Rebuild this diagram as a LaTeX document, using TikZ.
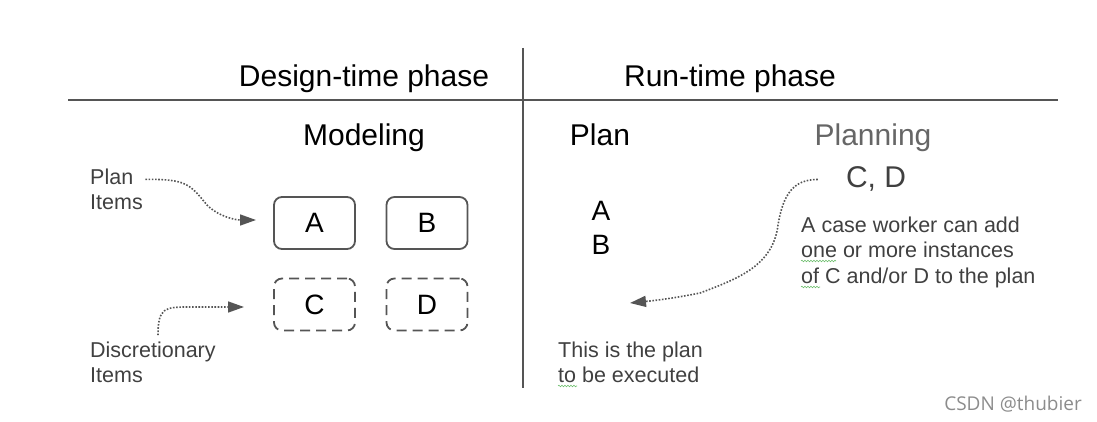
\documentclass[tikz,border=0pt]{standalone}
\usepackage{fontspec}
\setmainfont{Liberation Sans}
\newfontfamily\wmfont{Open Sans}
\usetikzlibrary{arrows.meta,decorations.pathmorphing}
\definecolor{linegray}{HTML}{555555}
\definecolor{txtgray}{HTML}{404040}
\definecolor{lightgray}{HTML}{666666}
\definecolor{squig}{HTML}{6DBE6D}
\tikzset{
  big/.style={font=\fontsize{30}{34}\selectfont, text=black, inner sep=0pt},
  letter/.style={font=\fontsize{28}{32}\selectfont, text=black, inner sep=0pt},
  small/.style={font=\fontsize{21.5}{25}\selectfont, text=txtgray, inner sep=0pt, align=left},
  itembox/.style={draw=linegray, line width=1.8pt, rounded corners=8pt, minimum width=81pt, minimum height=52pt, inner sep=0pt, font=\fontsize{28}{32}\selectfont},
  discbox/.style={itembox, dash pattern=on 10pt off 6pt},
  dotarrow/.style={draw=linegray, line width=1.6pt, dash pattern=on 1.6pt off 1.6pt, -{Triangle[length=16pt,width=11pt]}},
  squiggle/.style={draw=squig, line width=0.6pt, decorate, decoration={snake, amplitude=0.8pt, segment length=3pt}},
}
\begin{document}
\begin{tikzpicture}[x=1pt,y=-1pt]
\useasboundingbox (0,0) rectangle (1097,422);
% frame lines
\coordinate (hl) at (68,100);
\coordinate (hr) at (1058,100);
\coordinate (vt) at (523,48);
\coordinate (vb) at (523,388);
\draw[linegray, line width=2pt] (hl) -- (hr);
\draw[linegray, line width=1.6pt] (vt) -- (vb);
% headings
\node[big, anchor=base] (design) at (364,87) {Design-time phase};
\node[big, anchor=base] (run) at (730,87) {Run-time phase};
\node[big, anchor=base] (modeling) at (364,146) {Modeling};
\node[big, anchor=base] (plan) at (600,146) {Plan};
\node[big, anchor=base, text=lightgray] (planning) at (873,146) {Planning};
\node[big, anchor=base, text=txtgray] (cd) at (876,188) {C, D};
% boxes
\node[itembox] (A) at (314.5,223) {A};
\node[itembox] (B) at (427,223) {B};
\node[discbox] (C) at (314.5,304.5) {C};
\node[discbox] (D) at (427,304.5) {D};
% run-time A B
\node[letter] (ra) at (601,211) {A};
\node[letter] (rb) at (601,245) {B};
% small labels
\node[small, anchor=base west] (pi1) at (90,185) {Plan};
\node[small, anchor=base west] (pi2) at (90,210) {Items};
\node[small, anchor=base west] (di1) at (90,357) {Discretionary};
\node[small, anchor=base west] (di2) at (90,382) {Items};
\node[small, anchor=base west] (cw1) at (801,232) {A case worker can add};
\node[small, anchor=base west] (cw2) at (801,257.5) {one or more instances};
\node[small, anchor=base west] (cw3) at (801,283) {of C and/or D to the plan};
\node[small, anchor=base west] (tp1) at (558,357) {This is the plan};
\node[small, anchor=base west] (tp2) at (558,382) {to be executed};
% squiggles
\draw[squiggle] (801,261) -- (836,261);
\draw[squiggle] (801,287) -- (820,287);
\draw[squiggle] (558,386) -- (577,386);
% arrows
\coordinate (t1) at (256,220);
\coordinate (t2) at (244,307);
\coordinate (t3) at (630,303);
\draw[dotarrow] (pi1.east) ++(12,2) .. controls +(40,0) and +(-18,-22) .. (207,205) .. controls +(12,12) and +(-20,0) .. (t1);
\draw[dotarrow] (di1.north west) ++(68,-6) .. controls +(0,-28) and +(-25,0) .. (190,307) -- (t2);
\draw[dotarrow] (cd.west) ++(-28,0) .. controls +(-25,0) and +(5,-30) .. (778,225) .. controls +(-5,40) and +(40,-15) .. (700,293) .. controls +(-30,6) and +(20,-2) .. (t3);
% watermark
\node[font=\wmfont\fontsize{19}{21}\selectfont, text=black!45, anchor=base east, inner sep=0pt] (wm) at (1082,410) {CSDN @thubier};
\end{tikzpicture}
\end{document}
